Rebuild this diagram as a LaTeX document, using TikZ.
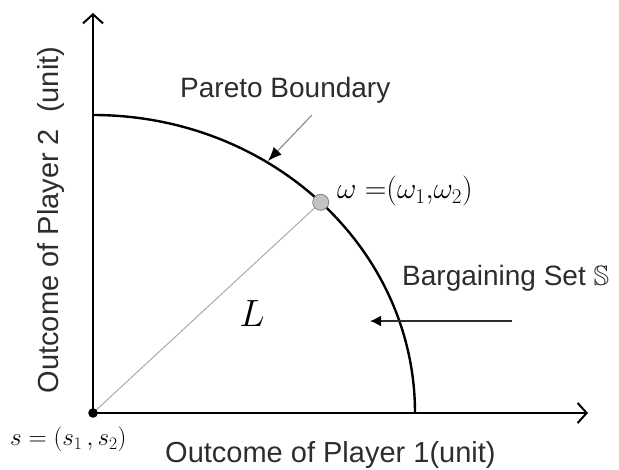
\RequirePackage{fix-cm}
\documentclass[tikz,border=0pt]{standalone}
\usepackage{amssymb}
\usepackage{fontspec}
\setmainfont{Liberation Sans}
\usetikzlibrary{arrows.meta}
\definecolor{txt}{RGB}{45,45,45}
\definecolor{lgray}{RGB}{170,170,170}
\tikzset{
  axisline/.style={line width=2.4pt, black, -{Straight Barb[length=9pt,width=20pt,line width=2pt]}},
  boundary/.style={line width=2.4pt, black},
  rayline/.style={line width=1pt, lgray},
  ptrA/.style={line width=1pt, gray, -{Latex[length=14pt,width=11pt,black]}},
  ptrB/.style={line width=1.6pt, txt, -{Latex[length=11pt,width=11pt,black]}},
  lab/.style={text=txt, font=\fontsize{28}{32}\selectfont, inner sep=0pt},
  axlab/.style={text=txt, font=\fontsize{29}{33}\selectfont, inner sep=0pt},
  mlab/.style={text=black, font=\fontsize{25}{29}\selectfont, inner sep=0pt},
}
\begin{document}
\begin{tikzpicture}[x=1pt,y=-1pt]
\useasboundingbox (0,0) rectangle (619,470);
\coordinate (O) at (93,413);
\coordinate (ytip) at (93,13);
\coordinate (xtip) at (588,413);
\coordinate (ytop) at (93,115);
% ray and point
\node[circle, minimum size=16pt, inner sep=0pt] (w) at (320.7,202.3) {};
\draw[rayline] (O) -- (w);
% boundary
\draw[boundary] (ytop) arc[start angle=-90, end angle=0, x radius=322, y radius=298];
\node[circle, minimum size=16pt, inner sep=0pt, fill=lgray!70, draw=gray, line width=0.8pt] (wdot) at (w) {};
% axes
\draw[axisline] (O) -- (ytip);
\draw[axisline] (O) -- (xtip);
\fill (O) circle[radius=4.8pt];
% labels
\node[axlab, rotate=90, anchor=base] (ylab) at (58,220) {Outcome of Player 2\ \ (unit)};
\node[axlab, anchor=base west] (xlab) at (165,463) {Outcome of Player 1(unit)};
\node[lab, anchor=base west] (pb) at (180,98) {Pareto Boundary};
\node[lab, anchor=base west] (bs) at (402,286) {Bargaining Set $\mathbb{S}$};
\node[mlab, anchor=base west, font=\fontsize{30}{34}\selectfont] (wlab) at (337,199) {$\omega\;{=}(\omega_1{,}\omega_2)$};
\node[mlab, anchor=base west] (slab) at (10,446) {$s=(s_1\,,s_2)$};
\node[mlab, font=\fontsize{38}{40}\selectfont] (Llab) at (252,314) {$L$};
% pointers
\coordinate (pa) at (312,115);
\coordinate (pt) at (268,161);
\draw[ptrA] (pa) -- (pt);
\coordinate (ba) at (512,321);
\coordinate (bt) at (370,321);
\draw[ptrB] (ba) -- (bt);
\end{tikzpicture}
\end{document}
